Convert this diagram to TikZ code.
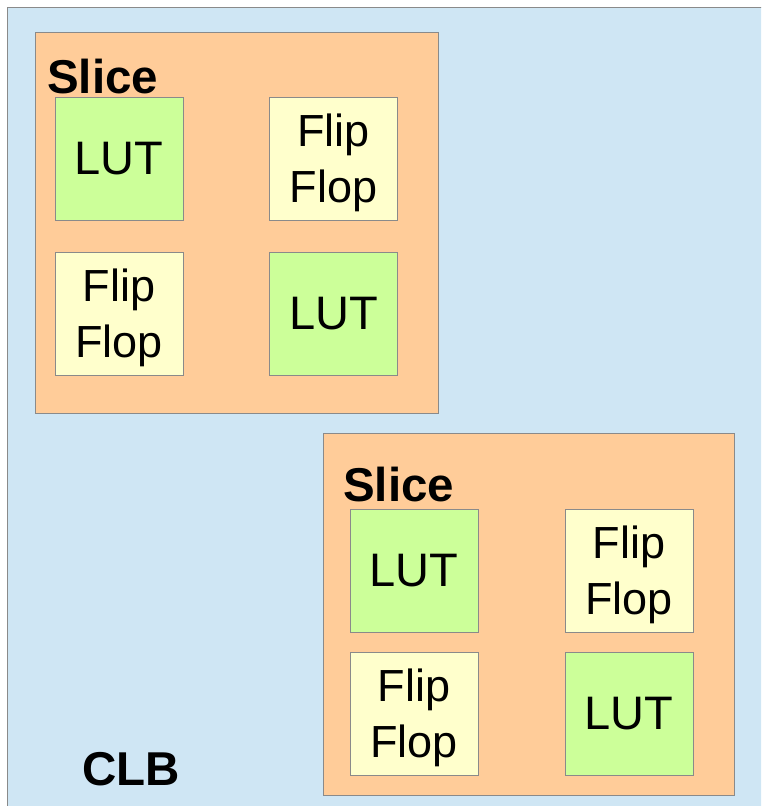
\documentclass[tikz,border=0pt]{standalone}
\usepackage{fontspec}
\setmainfont{Liberation Sans}
\definecolor{clbblue}{HTML}{CFE6F4}
\definecolor{sliceorange}{HTML}{FFCC99}
\definecolor{lutgreen}{HTML}{CCFF99}
\definecolor{ffyellow}{HTML}{FFFFCC}
\definecolor{edgegray}{HTML}{8A8A8A}
% two-line cell label, its lower baseline set 43.5pt below the cell centre
\newcommand{\twoline}[2]{\raisebox{-43.5pt}[0pt][0pt]{\begin{tabular}[b]{@{}c@{}}#1\\#2\end{tabular}}}
\tikzset{
  clbbox/.style={draw=edgegray, line width=1pt, fill=clbblue},
  slicebox/.style={draw=edgegray, line width=1pt, fill=sliceorange},
  cell/.style={draw=edgegray, line width=0.8pt, minimum width=128pt, minimum height=123pt,
               inner sep=0pt},
  lutcell/.style={cell, fill=lutgreen, font=\fontsize{47}{56}\selectfont},
  ffcell/.style={cell, fill=ffyellow, font=\fontsize{45}{56}\selectfont},
  title/.style={anchor=base west, inner sep=0pt, font=\fontsize{47.5}{56}\selectfont\bfseries}
}
\begin{document}
\begin{tikzpicture}[x=1pt, y=-1pt]
  \path[use as bounding box, clip] (0,0) rectangle (761,806);
  \fill[white] (0,0) rectangle (761,806);

  % CLB container (runs past the right and bottom edges)
  \draw[clbbox] (7,7) rectangle (780,830);
  \node[title] (clb) at (82,785) {CLB};

  % first slice
  \draw[slicebox] (35,32) rectangle (438,413);
  \node[title] (s1) at (47,93) {Slice};
  \node[lutcell] (lut1) at (119,158.5) {LUT};
  \node[ffcell]  (ff1)  at (333.5,158.5) {\twoline{Flip}{Flop}};
  \node[ffcell]  (ff2)  at (119,313.5) {\twoline{Flip}{Flop}};
  \node[lutcell] (lut2) at (333.5,313.5) {LUT};

  % second slice
  \draw[slicebox] (323,433) rectangle (734,795);
  \node[title] (s2) at (343,501) {Slice};
  \node[lutcell] (lut3) at (414,571) {LUT};
  \node[ffcell]  (ff3)  at (629,571) {\twoline{Flip}{Flop}};
  \node[ffcell]  (ff4)  at (414,713.5) {\twoline{Flip}{Flop}};
  \node[lutcell] (lut4) at (629,713.5) {LUT};
\end{tikzpicture}
\end{document}
